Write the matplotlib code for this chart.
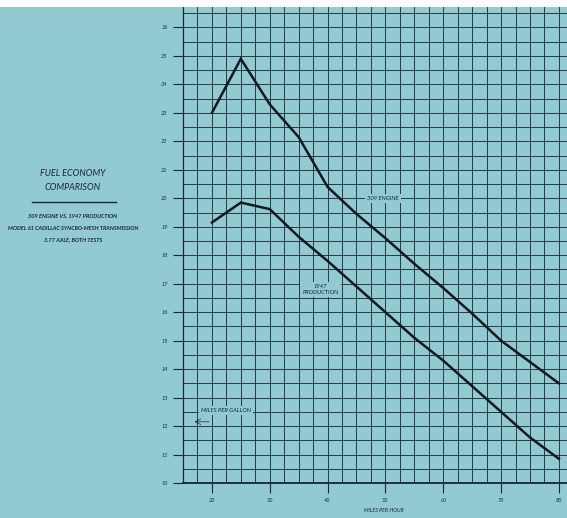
import numpy as np
import matplotlib
matplotlib.use('Agg')
from matplotlib import pyplot as plt
from matplotlib.patches import Rectangle

# Data
mph = [20, 25, 30, 35, 40, 45, 50, 55, 60, 65, 70, 75, 80]
engine_309 = [23.0, 24.9, 23.3, 22.15, 20.4, 19.45, 18.6, 17.7, 16.85, 15.95, 15.0, 14.25, 13.5]
prod_1947 = [19.15, 19.85, 19.62, 18.65, 17.8, 16.9, 16.0, 15.1, 14.3, 13.4, 12.5, 11.6, 10.85]

x_ticks = [20, 30, 40, 50, 60, 70, 80]
y_ticks = list(range(10, 27))

bg = '#91cad1'
ink = '#1b2636'
plt.rcParams['font.family'] = ['Lato', 'DejaVu Sans']

W, H = 567, 518
fig = plt.figure(figsize=(W / 100, H / 100), dpi=100, facecolor=bg)

# white strip along the top edge
fig.patches.append(Rectangle((0, 1 - 7 / H), 1, 7 / H, transform=fig.transFigure,
                             facecolor='white', edgecolor='none', zorder=0))

ax = fig.add_axes([183 / W, (H - 483) / H, (W - 183) / W, (483 - 7) / H])
ax.set_facecolor('none')
ax.set_xlim(15, 81.4)
ax.set_ylim(10, 26.72)

# graph paper grid
ax.set_xticks(x_ticks)
ax.set_xticks(np.arange(15, 81, 2.5), minor=True)
ax.set_yticks(y_ticks)
ax.set_yticks(np.arange(10, 26.6, 0.5), minor=True)
ax.grid(which='both', color=ink, lw=0.7, alpha=0.9, zorder=1)
ax.set_axisbelow(True)
ax.tick_params(which='major', direction='out', length=7, width=0.8, color=ink,
               labelsize=4, labelcolor=ink, pad=4)
ax.tick_params(which='minor', length=0)
ax.set_xticklabels([str(v) for v in x_ticks], fontstyle='italic')
ax.set_yticklabels([str(v) for v in y_ticks], fontstyle='italic')
for s in ['top', 'right']:
    ax.spines[s].set_visible(False)
ax.spines['left'].set_color(ink)
ax.spines['left'].set_linewidth(0.9)
ax.spines['bottom'].set_color(ink)
ax.spines['bottom'].set_linewidth(1.3)

# curves
ax.plot(mph, engine_309, color='#111820', lw=1.8, zorder=4, solid_joinstyle='miter')
ax.plot(mph, prod_1947, color='#111820', lw=1.8, zorder=4, solid_joinstyle='miter')

box = dict(facecolor=bg, edgecolor='none', pad=1.5)
ax.text(49.6, 20.0, '309 ENGINE', fontsize=4.2, color=ink, style='italic',
        ha='center', va='center', bbox=box, zorder=3)
ax.text(38.8, 16.8, '1947\nPRODUCTION', fontsize=4.2, color=ink, style='italic',
        ha='center', va='center', linespacing=1.3, bbox=box, zorder=3)
ax.text(22.5, 12.55, 'MILES PER GALLON', fontsize=4.2, color=ink, style='italic',
        ha='center', va='center', bbox=box, zorder=3)
ax.annotate('', xy=(16.5, 12.15), xytext=(20, 12.15),
            arrowprops=dict(arrowstyle='->', color=ink, lw=0.5), zorder=3)
fig.text(384 / W, 1 - 511 / H, 'MILES PER HOUR', fontsize=3.8, color=ink,
         style='italic', ha='center', va='center')

# left side title block
cx = 73 / W
fig.text(cx, 1 - 173 / H, 'FUEL ECONOMY', fontsize=6.5, color=ink, style='italic',
         ha='center', va='center')
fig.text(cx, 1 - 187 / H, 'COMPARISON', fontsize=6.5, color=ink, style='italic',
         ha='center', va='center')
fig.add_artist(plt.Line2D([32 / W, 116 / W], [1 - 202 / H, 1 - 202 / H],
                          color=ink, lw=1.0, transform=fig.transFigure))
fig.text(cx, 1 - 216 / H, '309 ENGINE VS. 1947 PRODUCTION', fontsize=4.0, color=ink,
         style='italic', weight='bold', ha='center', va='center')
fig.text(cx, 1 - 228 / H, 'MODEL 61 CADILLAC SYNCRO-MESH TRANSMISSION', fontsize=4.0,
         color=ink, style='italic', weight='bold', ha='center', va='center')
fig.text(cx, 1 - 240 / H, '3.77 AXLE, BOTH TESTS', fontsize=4.0, color=ink,
         style='italic', weight='bold', ha='center', va='center')

fig.savefig('out.png', dpi=100, facecolor=bg)
